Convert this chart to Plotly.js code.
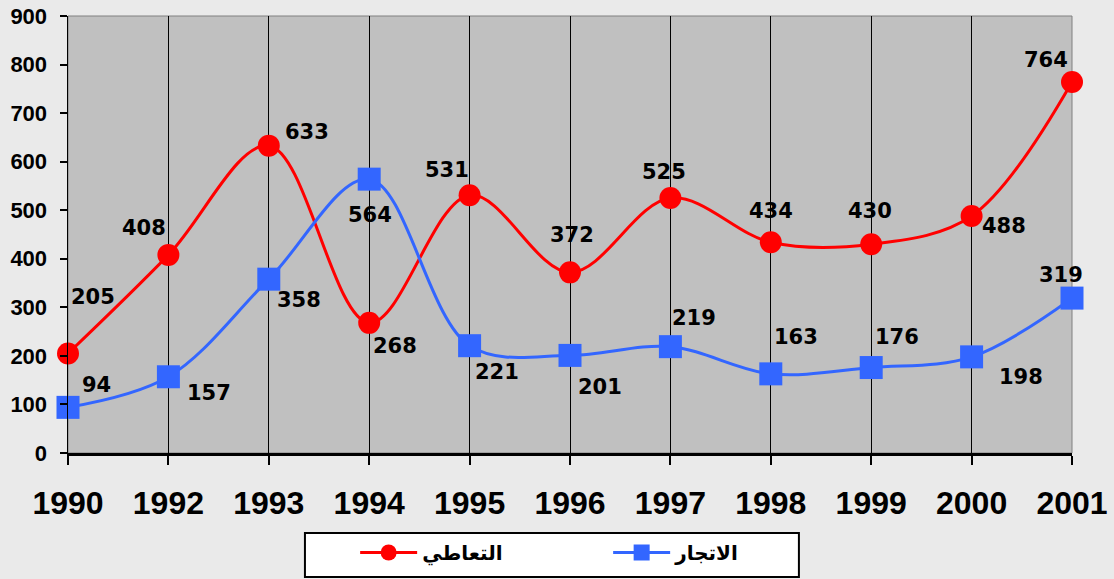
<!DOCTYPE html>
<html>
<head>
<meta charset="utf-8">
<script src="https://cdn.plot.ly/plotly-3.0.1.min.js"></script>
<style>html,body{margin:0;padding:0;background:#eaeaea;}#chart{width:1114px;height:579px;}</style>
</head>
<body>
<div id="chart"></div>
<script>
// ---- data ----
const years = ["1990","1992","1993","1994","1995","1996","1997","1998","1999","2000","2001"];
const taatiValues = [205,408,633,268,531,372,525,434,430,488,764];   // التعاطي
const ittijarValues = [94,157,358,564,221,201,219,163,176,198,319];  // الاتجار
const seriesNames = ["التعاطي","الاتجار"];
const yTicks = [0,100,200,300,400,500,600,700,800,900];

// label offsets in px (placement only)
const redOffsets = [[25,-56],[-24,-27],[38,-14],[26,23],[-23,-25],[2,-37],[-6,-26],[0,-31],[-1,-33],[32,10],[-26,-22]];
const blueOffsets = [[28,-22],[41,16],[30,21],[1,36],[27,26],[30,32],[24,-29],[25,-37],[26,-31],[49,20],[-11,-23]];

const labelFont = {family:"DejaVu Sans", size:21, color:"#000", weight:700};
const annotations = [];
function addLabels(vals, offs){
  vals.forEach((v,i)=>{
    annotations.push({x:i, y:v, xref:"x", yref:"y", text:String(v), showarrow:false,
      xshift:offs[i][0], yshift:-offs[i][1], font:labelFont});
  });
}
addLabels(taatiValues, redOffsets);
addLabels(ittijarValues, blueOffsets);

const traces = [
  {x:years, y:taatiValues, name:seriesNames[0], type:"scatter", mode:"lines+markers",
   line:{color:"#ff0000", width:3, shape:"spline", smoothing:1},
   marker:{color:"#ff0000", size:22, symbol:"circle"}, cliponaxis:false},
  {x:years, y:ittijarValues, name:seriesNames[1], type:"scatter", mode:"lines+markers",
   line:{color:"#3366ff", width:3, shape:"spline", smoothing:1},
   marker:{color:"#3366ff", size:23, symbol:"square"}, cliponaxis:false}
];

const layout = {
  width:1114, height:579,
  paper_bgcolor:"#eaeaea", plot_bgcolor:"#c0c0c0",
  margin:{l:68, r:42, t:16, b:126, autoexpand:false},
  showlegend:true,
  xaxis:{type:"category", range:[0,10], showgrid:true, gridcolor:"#000", gridwidth:1,
    showline:true, linecolor:"#000", linewidth:3, ticks:"outside", ticklen:9, tickwidth:2, tickcolor:"#000",
    tickfont:{family:"Liberation Sans", size:32, color:"#000", weight:700}, ticklabelstandoff:11,
    zeroline:false, fixedrange:true},
  yaxis:{range:[0,900], tickvals:yTicks, showgrid:false, zeroline:false,
    showline:true, linecolor:"#000", linewidth:1.5, ticks:"outside", ticklen:7, tickwidth:2, tickcolor:"#000",
    tickfont:{family:"Liberation Sans", size:22, color:"#000", weight:700}, ticklabelstandoff:8, fixedrange:true},
  legend:{orientation:"h", x:0.286, xanchor:"left", y:-0.183, yanchor:"top",
    bgcolor:"rgba(0,0,0,0)", borderwidth:0,
    font:{family:"DejaVu Sans", size:20, color:"#000", weight:700},
    entrywidth:181, itemwidth:57, traceorder:"normal"},
  shapes:[
    {type:"rect", xref:"paper", yref:"paper", x0:0, x1:1, y0:0, y1:1, line:{color:"#808080", width:1}, layer:"below"},
    {type:"rect", xref:"paper", yref:"paper", x0:0.236, x1:0.728, y0:-0.284, y1:-0.183, fillcolor:"#ffffff", line:{color:"#000", width:2}, layer:"below"}
  ],
  annotations:annotations
};

Plotly.newPlot("chart", traces, layout, {displayModeBar:false, staticPlot:true});
</script>
</body>
</html>
